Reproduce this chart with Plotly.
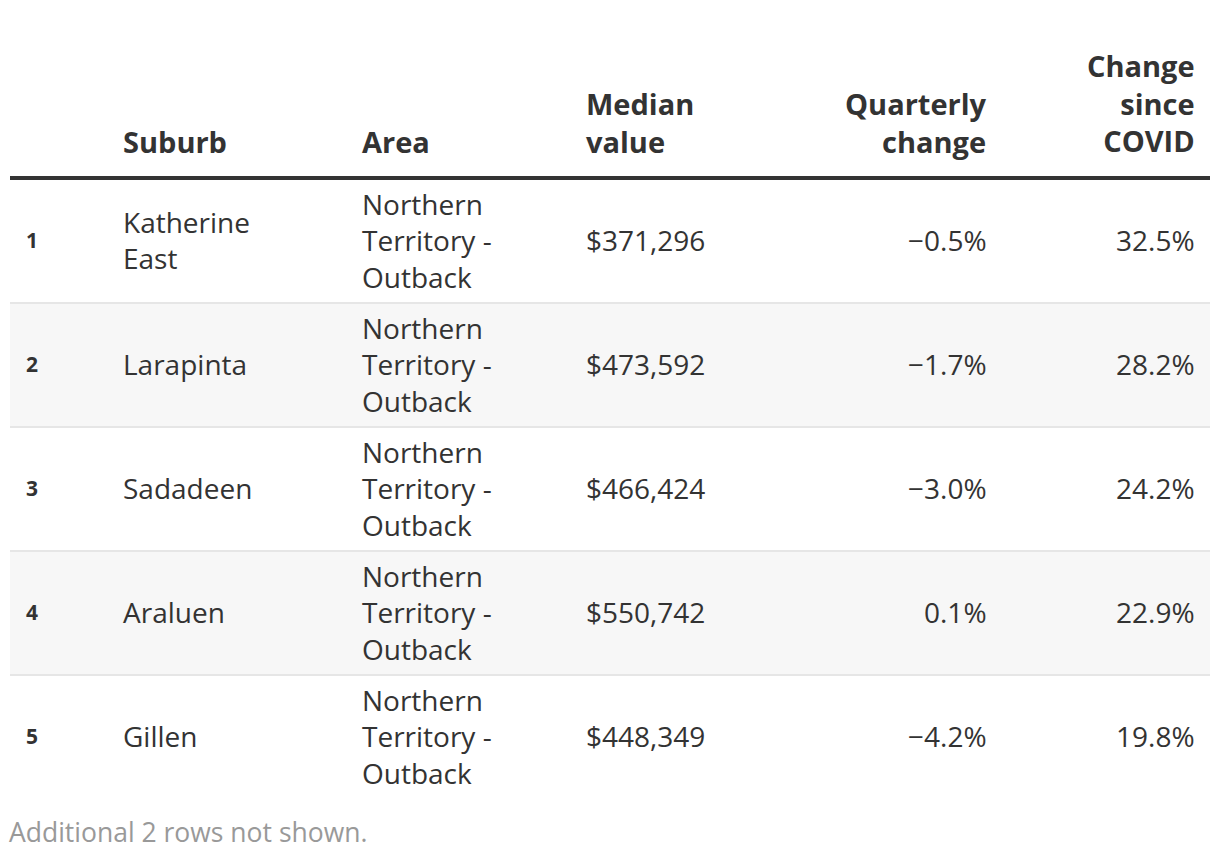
import textwrap
import plotly.graph_objects as go

# ---- data ----
ranks = [1, 2, 3, 4, 5]
suburbs = ["Katherine East", "Larapinta", "Sadadeen", "Araluen", "Gillen"]
areas = ["Northern Territory - Outback"] * 5
median_values = [371296, 473592, 466424, 550742, 448349]
quarterly_change = [-0.5, -1.7, -3.0, 0.1, -4.2]
change_since_covid = [32.5, 28.2, 24.2, 22.9, 19.8]
headers = ["", "Suburb", "Area", "Median value", "Quarterly change", "Change since COVID"]
footer_note = "Additional 2 rows not shown."

# ---- layout constants ----
W, H = 1220, 858
FONT = "Open Sans"
TEXT = "#333333"
TABLE_L, TABLE_R = 10, 1210
HEADER_LAST_LINE = 141
HEADER_SIZE = 29
HEADER_RULE_Y = 178
BODY_TOP = 180
ROW_H = 124
BODY_SIZE = 28
LINE_FACTOR = 1.3  # plotly multi-line spacing
PAD = 3            # annotation inner padding

# column: (x, anchor, wrap width)
cols = [
    (27, "left", 10),
    (124, "left", 10),
    (363, "left", 12),
    (587, "left", 8),
    (986, "right", 9),
    (1194, "right", 6),
]


def fmt_pct(v):
    return f"{v:.1f}%".replace("-", "\u2212")


def ax(x, anchor):
    return x - PAD if anchor == "left" else x + PAD


row_cells = []
for i in range(len(ranks)):
    row_cells.append([
        str(ranks[i]),
        suburbs[i],
        areas[i],
        f"${median_values[i]:,}",
        fmt_pct(quarterly_change[i]),
        fmt_pct(change_since_covid[i]),
    ])

fig = go.Figure()
fig.add_trace(go.Scatter(x=[0], y=[0], mode="markers", marker=dict(opacity=0),
                         hoverinfo="skip", showlegend=False))

shapes = []
annotations = []

# row backgrounds and separators
for i in range(len(ranks)):
    y0 = BODY_TOP + i * ROW_H
    y1 = y0 + ROW_H
    if i % 2 == 1:
        shapes.append(dict(type="rect", xref="x", yref="y", x0=TABLE_L, x1=TABLE_R,
                           y0=y0, y1=y1, fillcolor="#f7f7f7", line_width=0, layer="below"))
    if i < len(ranks) - 1:
        shapes.append(dict(type="line", xref="x", yref="y", x0=TABLE_L, x1=TABLE_R,
                           y0=y1 - 1, y1=y1 - 1, line=dict(color="#e6e6e6", width=2)))

# header rule
shapes.append(dict(type="line", xref="x", yref="y", x0=TABLE_L, x1=TABLE_R,
                   y0=HEADER_RULE_Y, y1=HEADER_RULE_Y, line=dict(color="#333333", width=4)))

# header text (bottom aligned)
for (x, anchor, width), h in zip(cols, headers):
    if not h:
        continue
    lines = textwrap.wrap(h, width)
    n = len(lines)
    yc = HEADER_LAST_LINE - (n - 1) / 2 * HEADER_SIZE * LINE_FACTOR
    annotations.append(dict(x=ax(x, anchor), y=yc, xref="x", yref="y",
                            text="<br>".join(f"<b>{ln}</b>" for ln in lines),
                            showarrow=False, xanchor=anchor, yanchor="middle", align=anchor,
                            font=dict(family=FONT, size=HEADER_SIZE, color=TEXT)))

# body text (vertically centred in each row)
for i, cells in enumerate(row_cells):
    yc = BODY_TOP + i * ROW_H + ROW_H / 2 - 2
    for c, ((x, anchor, width), val) in enumerate(zip(cols, cells)):
        lines = textwrap.wrap(val, width) if c in (1, 2) else [val]
        if c == 0:
            txt, size = f"<b>{val}</b>", 21
        else:
            txt, size = "<br>".join(lines), BODY_SIZE
        annotations.append(dict(x=ax(x, anchor), y=yc, xref="x", yref="y", text=txt,
                                showarrow=False, xanchor=anchor, yanchor="middle", align=anchor,
                                font=dict(family=FONT, size=size, color=TEXT)))

# footer
annotations.append(dict(x=ax(TABLE_L, "left"), y=832, xref="x", yref="y", text=footer_note,
                        showarrow=False, xanchor="left", yanchor="middle",
                        font=dict(family=FONT, size=26.5, color="#999999")))

fig.update_layout(
    width=W, height=H,
    margin=dict(l=0, r=0, t=0, b=0),
    paper_bgcolor="white", plot_bgcolor="white",
    xaxis=dict(range=[0, W], visible=False, fixedrange=True),
    yaxis=dict(range=[H, 0], visible=False, fixedrange=True),
    shapes=shapes, annotations=annotations,
    showlegend=False,
)

fig.write_html(
    "out.html",
    config={"displayModeBar": False},
    post_script="document.body.style.margin='0';document.body.style.overflow='hidden';",
)
